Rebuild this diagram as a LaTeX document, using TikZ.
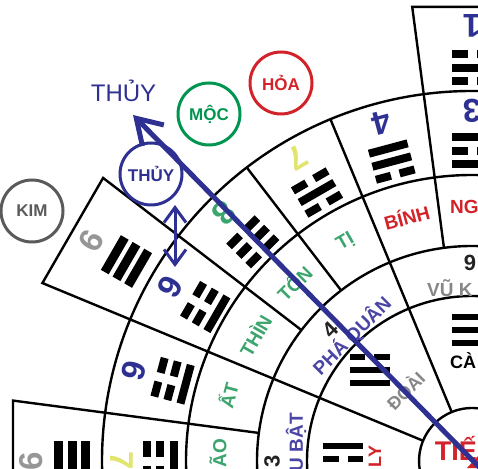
\documentclass[tikz,border=0pt]{standalone}
\usepackage{fontspec}
\setmainfont{Liberation Sans}
\usetikzlibrary{arrows.meta}
\definecolor{navy}{RGB}{46,49,146}
\definecolor{pnavy}{RGB}{75,70,165}
\definecolor{mgreen}{RGB}{0,150,80}
\definecolor{tgreen}{RGB}{60,165,110}
\definecolor{mred}{RGB}{210,35,42}
\definecolor{kgray}{RGB}{90,90,90}
\definecolor{lgray}{RGB}{150,150,150}
\definecolor{mgray}{RGB}{135,135,135}
\definecolor{pyellow}{RGB}{225,228,110}
\definecolor{dgray}{RGB}{35,35,35}
% trigram: angle, radius, rotation, half length, half thickness, spacing, outer, middle, inner (1 solid, 0 broken)
\newcommand\trbar[4]{%
  \ifnum#4=1
    \fill (-#1,#3-#2) rectangle (#1,#3+#2);
  \else
    \fill (-#1,#3-#2) rectangle (-4.5,#3+#2);
    \fill (4.5,#3-#2) rectangle (#1,#3+#2);
  \fi}
\newcommand\trigram[9]{%
  \begin{scope}[shift={(#1:#2)},rotate=#3]
    \trbar{#4}{#5}{#6}{#7}
    \trbar{#4}{#5}{0}{#8}
    \trbar{#4}{#5}{-#6}{#9}
  \end{scope}}
\begin{document}
\begin{tikzpicture}[x=1pt,y=1pt,
  ring/.style={line width=2.4pt,black},
  elem/.style={circle,draw,line width=3pt,minimum size=62pt,inner sep=0pt,
    font=\fontsize{17}{17}\selectfont\bfseries},
  mtn/.style={font=\fontsize{19}{19}\selectfont\bfseries,inner sep=0pt},
  star/.style={font=\fontsize{33}{33}\selectfont\bfseries,inner sep=0pt},
  sdig/.style={font=\fontsize{22}{22}\selectfont\bfseries,inner sep=0pt,text=dgray},
  gua/.style={font=\fontsize{18}{18}\selectfont\bfseries,inner sep=0pt}]
\useasboundingbox (0,0) rectangle (478,468);
\clip (0,0) rectangle (478,468);
\fill[white] (0,0) rectangle (478,468);

\begin{scope}[shift={(472,7)}]
  % rings
  \draw[ring] (80:53) arc[start angle=80,end angle=190,radius=53];
  \draw[ring] (80:165) arc[start angle=80,end angle=190,radius=165];
  \draw[ring] (80:215) arc[start angle=80,end angle=190,radius=215];
  \draw[ring] (80:286) arc[start angle=80,end angle=190,radius=286];
  \draw[ring] (80:370) arc[start angle=80,end angle=190,radius=370];
  % radial lines
  \draw[ring] (112.5:53) -- (112.5:370);
  \draw[ring] (157.5:53) -- (157.5:465) -- (142.5:465) -- (142.5:215);
  \draw[ring] (127.5:215) -- (127.5:370);
  \draw[ring] (97.5:215) -- (97.5:458) -- (82.5:458);
  \draw[ring] (172.5:215) -- (172.5:463) -- (187.5:463);

  % ring 4 stars
  \node[star,text=navy,rotate=180] (s90) at (90:350) {3};
  \node[star,text=navy,rotate=195] (s105) at (105:350) {4};
  \node[star,text=pyellow,rotate=210] (s120) at (120:350) {7};
  \node[star,text=tgreen,rotate=225] (s135) at (135:350) {8};
  \node[star,text=navy,rotate=60] (s150) at (150:348) {9};
  \node[star,text=navy,rotate=75] (s165) at (165:350) {9};
  \node[star,text=pyellow,rotate=270] (s180) at (180:350) {7};
  \trigram{90}{310}{0}{20}{4}{13.5}{1}{0}{1}
  \trigram{105}{310}{15}{20}{4}{13.5}{1}{1}{0}
  \trigram{120}{310}{30}{20}{4}{13.5}{0}{1}{0}
  \trigram{135}{310}{45}{20}{4}{13.5}{0}{0}{0}
  \trigram{150}{308}{60}{20}{4}{13.5}{0}{0}{1}
  \trigram{165}{310}{75}{20}{4}{13.5}{0}{0}{1}
  \trigram{180}{312}{90}{20}{4}{13.5}{0}{0}{1}
  % outer boxes
  \node[star,text=navy,rotate=180] (o90) at (90:435) {1};
  \node[star,text=lgray,rotate=60] (o150) at (150:440) {6};
  \node[star,text=lgray,rotate=90] (o180) at (180:441) {6};
  \trigram{90}{393}{0}{20}{4}{13.5}{0}{1}{0}
  \trigram{150}{399}{60}{20}{4.5}{13.5}{1}{1}{1}
  \trigram{180}{400}{90}{20}{4.5}{13.5}{1}{1}{1}

  % ring 3 mountains
  \node[mtn,text=mred,rotate=15] (binh) at (105:253) {BÍNH};
  \node[mtn,text=tgreen,rotate=30] (ti) at (120:253) {TỊ};
  \node[mtn,text=tgreen,rotate=45] (ton) at (135:252) {TỐN};
  \node[mtn,text=tgreen,rotate=60] (thin) at (150:251) {THÌN};
  \node[mtn,text=tgreen,rotate=75] (at) at (165:253) {ẤT};

  % ring 1 trigrams
  \trigram{90}{131}{0}{20}{3.4}{13}{1}{1}{1}
  \trigram{138.3}{136.7}{0}{20}{3.4}{13}{0}{1}{1}
  \trigram{179.1}{129}{0}{20}{3.4}{13}{1}{0}{1}
\end{scope}

% partial texts cut by the frame
\node[mtn,text=mred,anchor=west] (ngo) at (450,261.5) {NG};
\node[mtn,text=tgreen,rotate=90,anchor=east] (mao) at (218,29) {ÃO};
\node[sdig] (d9) at (470,205) {9};
\node[mtn,text=mgray,anchor=west] (vukhuc) at (427,180) {VŨ K};
\node[sdig,rotate=45] (d4) at (330,138) {4};
\node[mtn,text=pnavy,rotate=45] (phaquan) at (352,132) {PHÁ QUÂN};
\node[sdig,rotate=90] (d3) at (272,7) {3};
\node[mtn,text=pnavy,rotate=90,anchor=east] (huubat) at (296,55) {U BẬT};
\node[gua,anchor=west] (can) at (450,107) {CÀ};
\node[gua,text=mgray,rotate=45] (doai) at (405,78) {ĐOÀI};
\node[gua,text=mred,rotate=90] (ly) at (375,11.5) {LY};
\node[font=\fontsize{27}{27}\selectfont\bfseries,text=mred,anchor=base east,inner sep=0pt] (tien) at (477,8) {TIẾ};
\fill[mred] (467,0) -- (478,12) -- (478,0) -- cycle;

% element circles
\node[elem,draw=kgray,text=kgray] (kim) at (32,257) {KIM};
\node[elem,draw=mgreen,text=mgreen] (moc) at (209,354) {MỘC};
\node[elem,draw=mred,text=mred] (hoa) at (281,385) {HỎA};
\node[elem,draw=navy,text=navy] (thuyc) at (151,294) {THỦY};
\node[font=\fontsize{24}{24}\selectfont,text=navy] (thuyl) at (123.5,377) {THỦY};

% arrows
\coordinate (arrS) at (486,-6);
\coordinate (arrE) at (133,353);
\draw[navy,line width=5pt,-{Straight Barb[length=24pt,width=30pt]}] (arrS) -- (arrE);
\coordinate (dTop) at (175,263);
\coordinate (dBot) at (175,201);
\draw[navy,line width=3pt,{Straight Barb[length=15pt,width=22pt]}-{Straight Barb[length=15pt,width=22pt]}] (dTop) -- (dBot);
\end{tikzpicture}
\end{document}
